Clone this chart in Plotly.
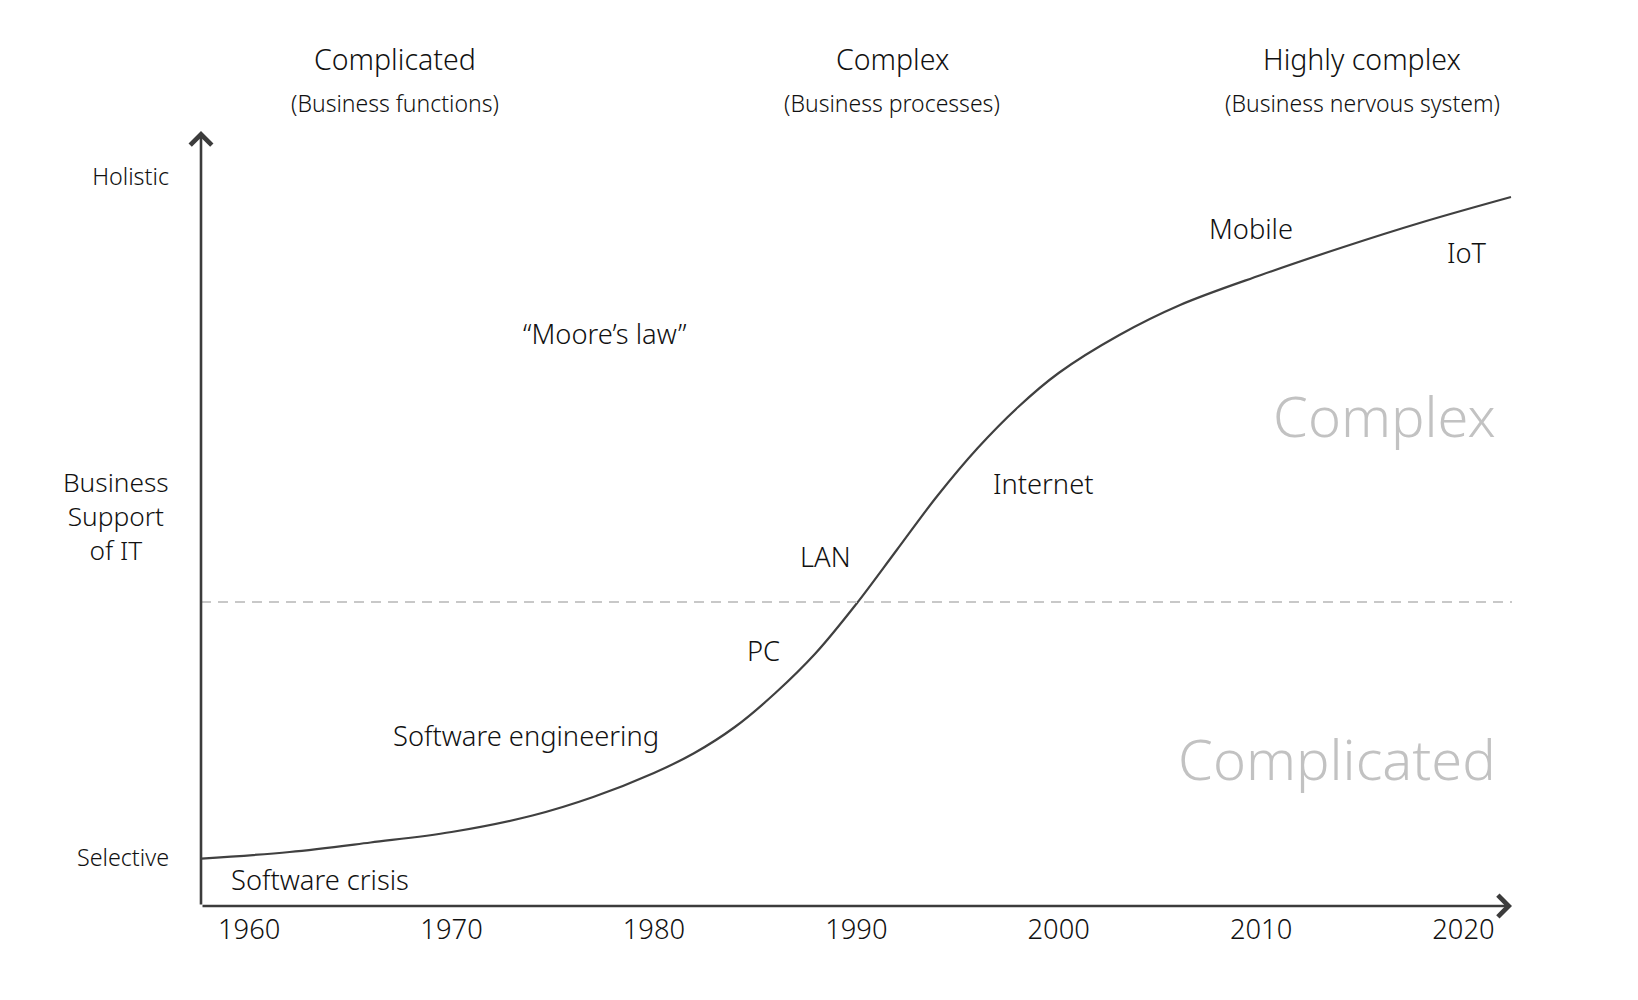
import plotly.graph_objects as go

# ---- data (years vs. level of business support of IT) ----
curve_years = [1957.64, 1962, 1966, 1970, 1974, 1977, 1980, 1982, 1984, 1986, 1988,
               1990, 1992, 1994, 1996, 1998, 2000, 2003, 2006, 2010, 2014, 2018, 2022.35]
curve_level = [4.74, 5.40, 6.35, 7.40, 9.05, 10.9, 13.3, 15.3, 17.9, 21.3, 25.3,
               30.2, 35.6, 41.0, 45.8, 49.9, 53.3, 57.1, 60.1, 63.1, 65.85, 68.4, 70.9]

year_ticks = [1960, 1970, 1980, 1990, 2000, 2010, 2020]
year_labels = ["1960", "1970", "1980", "1990", "2000", "2010", "2020"]

level_ticks = [4.81, 72.92]
level_labels = ["Selective", "Holistic"]

threshold_level = 30.4

x_range = [1957.62, 2022.4]
y_range = [0, 77.5]

# era headers: (title, subtitle, year)
era_titles = ["Complicated", "Complex", "Highly complex"]
era_subtitles = ["(Business functions)", "(Business processes)", "(Business nervous system)"]
era_years = [1967.2, 1991.77, 2015.0]

# milestones: label, year, level
milestone_labels = ["Software crisis", "Software engineering", "PC", "LAN", "Internet",
                    "Mobile", "IoT", "\u201cMoore\u2019s law\u201d"]
milestone_years = [1959.02, 1973.68, 1985.41, 1988.5, 1999.24, 2009.52, 2020.16, 1977.56]
milestone_levels = [2.61, 17.03, 25.6, 35.0, 42.21, 67.8, 65.4, 57.25]

zone_labels = ["Complex", "Complicated"]
zone_year = 2021.7
zone_levels = [49.1, 14.84]

FONT = "Noto Sans"
W = 300
AXIS_COLOR = "#3c3c3c"
TXT = "#111111"

fig = go.Figure()

fig.add_trace(go.Scatter(
    x=curve_years, y=curve_level, mode="lines",
    line=dict(color="#404040", width=2.2, shape="spline", smoothing=1.0),
    hoverinfo="skip", showlegend=False,
))

fig.add_shape(type="line", xref="paper", x0=0, x1=1.0, yref="y",
              y0=threshold_level, y1=threshold_level,
              line=dict(color="#c8c8c8", width=2, dash="10px,7px"))

ann = []
# axes arrows
ann.append(dict(x=x_range[1], y=0, ax=x_range[0], ay=0, xref="x", yref="y",
                axref="x", ayref="y", text="", showarrow=True, arrowhead=4,
                arrowsize=1.6, arrowwidth=2.6, arrowcolor=AXIS_COLOR, standoff=0))
ann.append(dict(x=x_range[0], y=y_range[1], ax=x_range[0], ay=0, xref="x", yref="y",
                axref="x", ayref="y", text="", showarrow=True, arrowhead=4,
                arrowsize=1.6, arrowwidth=2.6, arrowcolor=AXIS_COLOR, standoff=0))

for t, s, yr in zip(era_titles, era_subtitles, era_years):
    ann.append(dict(x=yr, y=1.0923, xref="x", yref="paper", text=t, showarrow=False,
                    xanchor="center", yanchor="middle",
                    font=dict(family=FONT, size=28.5, color=TXT, weight=W)))
    ann.append(dict(x=yr, y=1.0356, xref="x", yref="paper", text=s, showarrow=False,
                    xanchor="center", yanchor="middle",
                    font=dict(family=FONT, size=23, color=TXT, weight=W)))

for lab, yr, lv in zip(milestone_labels, milestone_years, milestone_levels):
    anchor = "left" if lab == "Software crisis" else "center"
    ann.append(dict(x=yr, y=lv, xref="x", yref="y", text=lab, showarrow=False,
                    xanchor=anchor, yanchor="middle",
                    font=dict(family=FONT, size=27.3, color=TXT, weight=W)))

for lab, lv in zip(zone_labels, zone_levels):
    ann.append(dict(x=zone_year, y=lv, xref="x", yref="y", text=lab, showarrow=False,
                    xanchor="right", yanchor="middle",
                    font=dict(family=FONT, size=56, color="#c2c2c2", weight=W)))

ann.append(dict(x=0, xref="paper", xshift=-85, y=38.97, yref="y",
                text="Business<br>Support<br>of IT", showarrow=False,
                xanchor="center", yanchor="middle", align="center",
                font=dict(family=FONT, size=26.3, color=TXT, weight=W)))

fig.update_layout(
    width=1638, height=1000, autosize=False,
    margin=dict(l=201, r=126, t=131, b=94, pad=0),
    paper_bgcolor="white", plot_bgcolor="white",
    annotations=ann,
    xaxis=dict(range=x_range, tickvals=year_ticks, ticktext=year_labels,
               showgrid=False, zeroline=False, showline=False, ticks="",
               ticklabelstandoff=5,
               tickfont=dict(family=FONT, size=27.3, color=TXT, weight=W), fixedrange=True),
    yaxis=dict(range=y_range, tickvals=level_ticks, ticktext=level_labels,
               showgrid=False, zeroline=False, showline=False, ticks="",
               ticklabelstandoff=31,
               tickfont=dict(family=FONT, size=23.3, color=TXT, weight=W), fixedrange=True),
)

fig.write_html("out.html", config={"displayModeBar": False})
